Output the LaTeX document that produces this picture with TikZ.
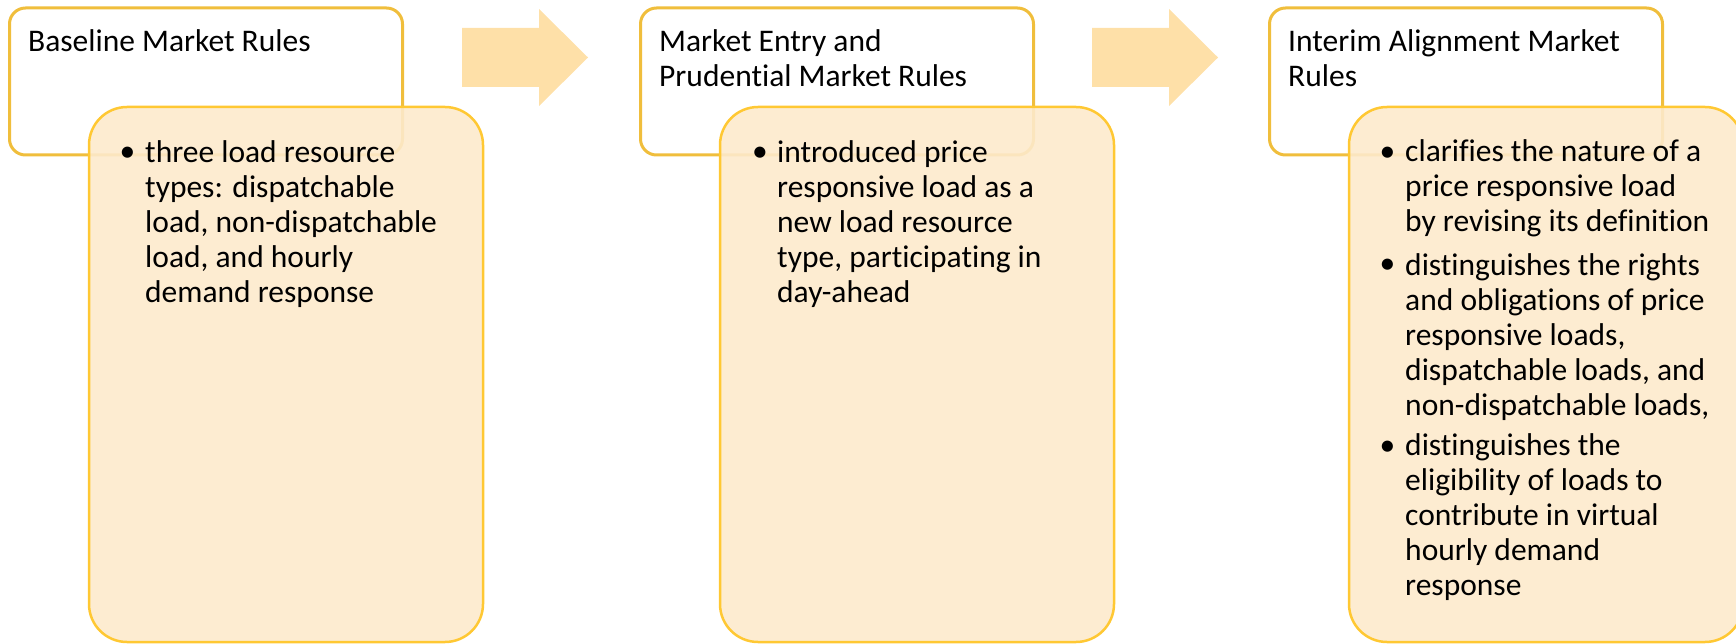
\documentclass[tikz,border=0pt]{standalone}
\usepackage{fontspec}
\setmainfont{Carlito}[Ligatures=NoCommon]
\definecolor{topline}{HTML}{F0BE3C}
\definecolor{detfill}{HTML}{FDEACC}
\definecolor{detline}{HTML}{FFC833}
\definecolor{arrfill}{HTML}{FEE0A8}
\tikzset{
  x=1pt, y=-1pt,
  topbox/.style={draw=topline, line width=3pt, rounded corners=16pt, fill=white,
    minimum width=393pt, minimum height=147pt, inner sep=0pt},
  detailbox/.style={draw=detline, line width=2.5pt, rounded corners=38pt, fill=detfill,
    fill opacity=0.9, minimum width=394pt, minimum height=535pt, inner sep=0pt},
  arrowshape/.style={fill=arrfill, draw=none},
  txt/.style={anchor=base west, inner sep=0pt, align=left, text=black,
    font=\fontsize{31.5}{35}\selectfont},
  bul/.style={anchor=base, inner sep=0pt, text=black,
    font=\fontsize{31.5}{35}\selectfont}
}
\begin{document}
\begin{tikzpicture}
\useasboundingbox (0,0) rectangle (1736,644);
% top boxes
\node[topbox] (t1) at (206,81.5) {};
\node[topbox] (t2) at (837,81.5) {};
\node[topbox] (t3) at (1466,81.5) {};
% detail boxes
\node[detailbox] (d1) at (286,374.5) {};
\node[detailbox] (d2) at (917,374.5) {};
\node[detailbox] (d3) at (1546,374.5) {};
% arrows
\path[arrowshape] (462,28) -- (539,28) -- (539,9) -- (588,57.5) -- (539,106) -- (539,87) -- (462,87) -- cycle;
\path[arrowshape] (1092,28) -- (1169,28) -- (1169,9) -- (1218,57.5) -- (1169,106) -- (1169,87) -- (1092,87) -- cycle;
% titles (anchor = baseline of last line)
\node[txt] (h1) at (28,52) {Baseline Market Rules};
\node[txt] (h2) at (659,87) {Market Entry and\\Prudential Market Rules};
\node[txt] (h3) at (1288,87) {Interim Alignment Market\\Rules};
% box 1 bullets
\node[bul] (b1a) at (127.5,162) {•};
\node[txt] (l1a) at (145,302) {three load resource\\types: dispatchable\\load, non-dispatchable\\load, and hourly\\demand response};
% box 2 bullets
\node[bul] (b2a) at (760,162) {•};
\node[txt] (l2a) at (777,302) {introduced price\\responsive load as a\\new load resource\\type, participating in\\day-ahead};
% box 3 bullets
\node[bul] (b3a) at (1387.5,162) {•};
\node[txt] (l3a) at (1405,232) {clarifies the nature of a\\price responsive load\\by revising its definition};
\node[bul] (b3b) at (1387.5,273) {•};
\node[txt] (l3b) at (1405,415) {distinguishes the rights\\and obligations of price\\responsive loads,\\dispatchable loads, and\\non-dispatchable loads,};
\node[bul] (b3c) at (1387.5,455) {•};
\node[txt] (l3c) at (1405,595) {distinguishes the\\eligibility of loads to\\contribute in virtual\\hourly demand\\response};
\end{tikzpicture}
\end{document}
